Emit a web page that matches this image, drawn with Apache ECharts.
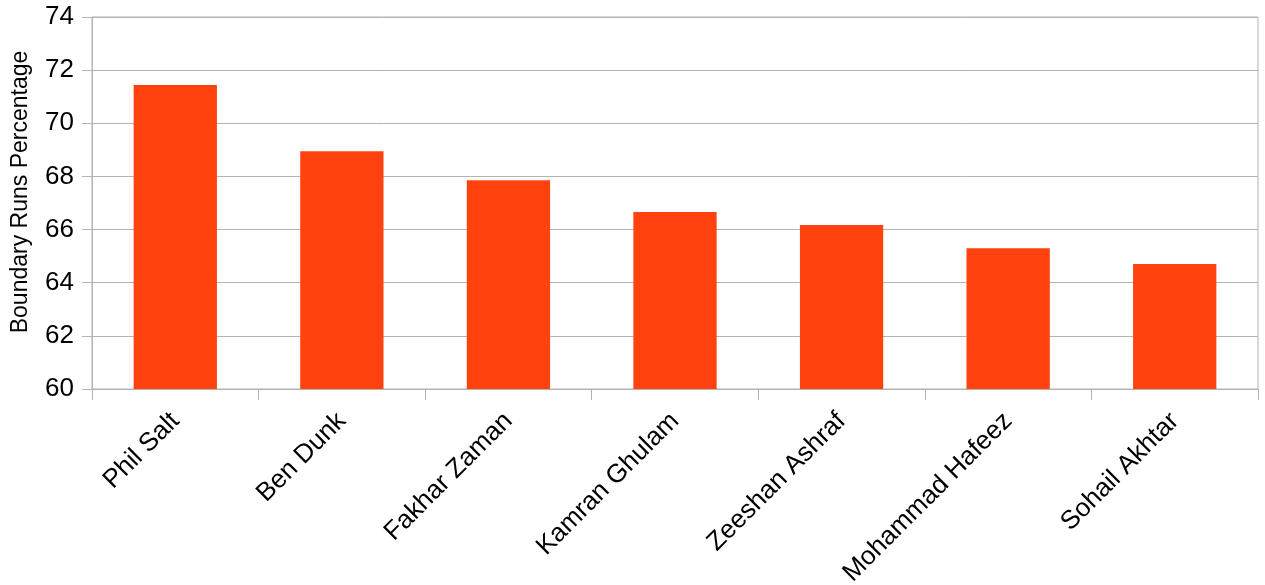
<!DOCTYPE html>
<html>
<head>
<meta charset="utf-8">
<script src="https://cdn.jsdelivr.net/npm/echarts@6/dist/echarts.min.js"></script>
<style>html,body{margin:0;padding:0;background:#fff}#c{width:1265px;height:585px}</style>
</head>
<body>
<div id="c"></div>
<script>
const categories = ["Phil Salt", "Ben Dunk", "Fakhar Zaman", "Kamran Ghulam", "Zeeshan Ashraf", "Mohammad Hafeez", "Sohail Akhtar"];
const boundaryPct = [71.44, 68.95, 67.86, 66.66, 66.17, 65.30, 64.70];
const yAxisName = "Boundary Runs Percentage";

const chart = echarts.init(document.getElementById('c'), null, {renderer: 'canvas'});
const font = "'Liberation Sans', Arial, sans-serif";
chart.setOption({
  animation: false,
  grid: {left: 92, right: 7, top: 17, bottom: 196, containLabel: false, outerBoundsMode: 'none', show: true, borderColor: '#b3b3b3', borderWidth: 1, backgroundColor: 'transparent'},
  xAxis: {
    type: 'category',
    data: categories,
    axisLine: {show: true, lineStyle: {color: '#b3b3b3', width: 1}},
    axisTick: {show: true, alignWithLabel: false, length: 11, lineStyle: {color: '#b3b3b3'}},
    axisLabel: {rotate: 45, margin: 28, fontSize: 26, color: '#000', fontFamily: font, interval: 0}
  },
  yAxis: {
    type: 'value',
    min: 60, max: 74, interval: 2,
    name: yAxisName,
    nameLocation: 'middle',
    nameGap: 60,
    nameTextStyle: {fontSize: 23, color: '#000', fontFamily: font, padding: [0, 0, 0, 22]},
    axisLine: {show: true, lineStyle: {color: '#b3b3b3', width: 1}},
    axisTick: {show: true, length: 10, lineStyle: {color: '#b3b3b3'}},
    axisLabel: {fontSize: 26, color: '#000', fontFamily: font, margin: 18},
    splitLine: {show: true, lineStyle: {color: '#b3b3b3', width: 1}}
  },
  series: [{
    type: 'bar',
    data: boundaryPct,
    barWidth: '50%',
    itemStyle: {color: '#ff420e'}
  }]
});
</script>
</body>
</html>
